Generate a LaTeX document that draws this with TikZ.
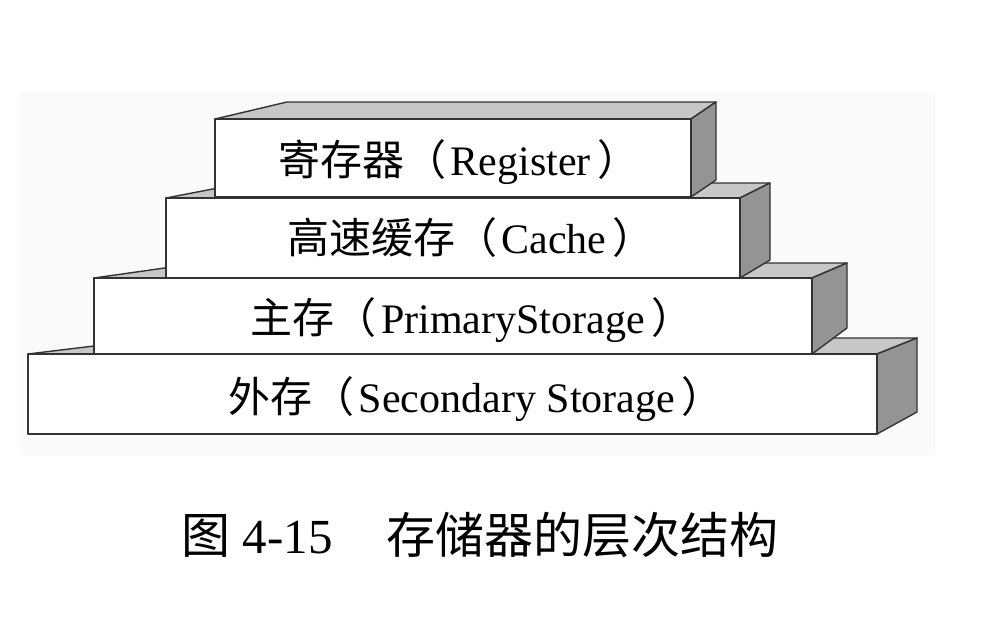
\documentclass[tikz,border=0pt]{standalone}
\usepackage{fontspec}
\setmainfont{Liberation Serif}
\newfontfamily\cjk{Noto Sans CJK SC}
\begin{document}
\begin{tikzpicture}[x=1pt,y=-1pt,
face/.style={draw=black!80,line width=1.4pt,line join=round,fill=white},
topface/.style={face,fill=black!22},
sideface/.style={face,fill=black!42},
lbl/.style={anchor=base,font=\fontsize{42}{48}\selectfont}]
\useasboundingbox(0,0)rectangle(982,626);
\fill[black!2](20,92)rectangle(935,455);
% secondary storage
\draw[topface](28,354)--(160,338)--(917,338)--(877,354)--cycle;
\draw[sideface](877,354)--(917,338)--(917,412)--(877,434)--cycle;
\draw[face](28,354)rectangle(877,434);
% primary storage
\draw[topface](94,278)--(200,263)--(847,263)--(812,278)--cycle;
\draw[sideface](812,278)--(847,263)--(847,328)--(812,354)--cycle;
\draw[face](94,278)rectangle(812,354);
% cache
\draw[topface](166,198)--(244,183)--(770,183)--(740,198)--cycle;
\draw[sideface](740,198)--(770,183)--(770,260)--(740,278)--cycle;
\draw[face](166,198)rectangle(740,278);
% register
\draw[topface](215,119)--(287,102)--(716,102)--(691,119)--cycle;
\draw[sideface](691,119)--(716,102)--(716,180)--(691,197)--cycle;
\draw[face](215,119)rectangle(691,197);
\node[lbl](reg)at(459,175){{\cjk 寄存器（}\hspace{.1em}Register\hspace{.15em}{\cjk ）}};
\node[lbl](cache)at(471,253){{\cjk 高速缓存（}\hspace{.1em}Cache\hspace{.15em}{\cjk ）}};
\node[lbl](prim)at(472,333){{\cjk 主存（}\hspace{.1em}PrimaryStorage\hspace{.15em}{\cjk ）}};
\node[lbl](sec)at(476,412){{\cjk 外存（}\hspace{.1em}Secondary Storage\hspace{.15em}{\cjk ）}};
\node[anchor=base,font=\fontsize{49}{56}\selectfont](cap)at(480,553){{\cjk 图} 4-15\hspace{1.1em}{\cjk 存储器的层次结构}};
\end{tikzpicture}
\end{document}
